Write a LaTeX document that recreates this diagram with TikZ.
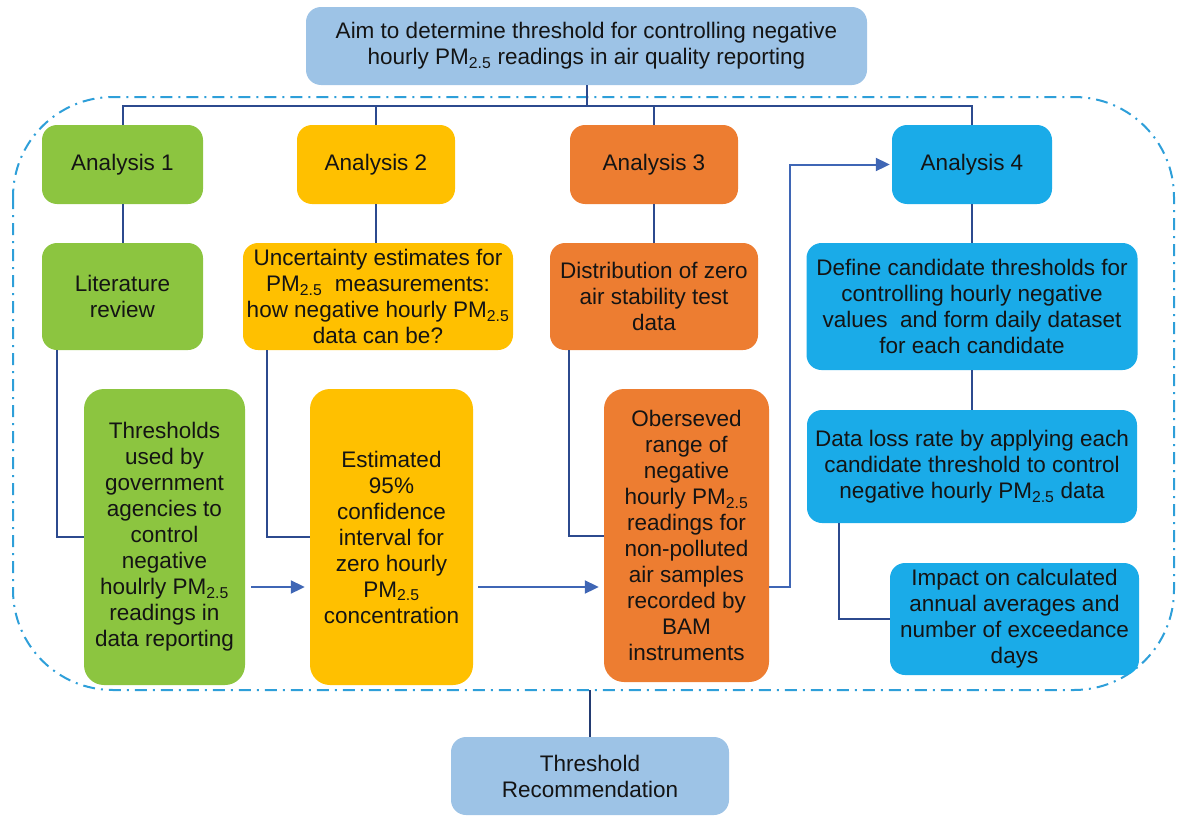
\documentclass[tikz,border=0pt]{standalone}
\usepackage{fontspec}
\setmainfont{Liberation Sans}
\usetikzlibrary{arrows.meta}
\definecolor{cgreen}{HTML}{8CC540}
\definecolor{cyellow}{HTML}{FFC000}
\definecolor{corange}{HTML}{ED7D31}
\definecolor{cblue}{HTML}{1AABE8}
\definecolor{clight}{HTML}{9DC3E6}
\definecolor{cline}{HTML}{2C4A8E}
\definecolor{carrow}{HTML}{3F66B5}
\definecolor{cframe}{HTML}{2E9FD9}
\definecolor{txt}{HTML}{141414}
\newcommand{\pmtf}{PM\textsubscript{2.5}}
\begin{document}
\begin{tikzpicture}[x=1pt,y=-1pt,
  box/.style={rounded corners=15pt, align=center, inner sep=0pt, text=txt,
    font=\fontsize{22.5}{26}\selectfont},
  conn/.style={draw=cline, line width=2pt},
  arr/.style={draw=carrow, line width=2pt, -{Triangle[length=14pt,width=13pt]}},
  frame/.style={draw=cframe, line width=2pt, rounded corners=100pt,
    dash pattern=on 12pt off 6pt on 2pt off 6pt}
]
\useasboundingbox (0,0) rectangle (1184,827);
\draw[frame] (13,97) rectangle (1174,690);
\coordinate (bus) at (0,106);
\coordinate (frameS) at (590,690);

\node[box, fill=clight, minimum width=561pt, minimum height=78pt] (top) at (586.5,46)
  {Aim to determine threshold for controlling negative\\hourly \pmtf{} readings in air quality reporting};
\node[box, fill=cgreen, minimum width=161pt, minimum height=79pt] (a1) at (122.5,164.5) {Analysis 1};
\node[box, fill=cyellow, minimum width=158pt, minimum height=79pt] (a2) at (376,164.5) {Analysis 2};
\node[box, fill=corange, minimum width=168pt, minimum height=79pt] (a3) at (654,164.5) {Analysis 3};
\node[box, fill=cblue, minimum width=160pt, minimum height=79pt] (a4) at (972,164.5) {Analysis 4};

\node[box, fill=cgreen, minimum width=161pt, minimum height=107pt] (lit) at (122.5,296.5) {Literature\\review};
\node[box, fill=cyellow, minimum width=270pt, minimum height=107pt] (unc) at (378,296.5)
  {Uncertainty estimates for\\\pmtf{}\ \ measurements:\\how negative hourly \pmtf\\data can be?};
\node[box, fill=corange, minimum width=208pt, minimum height=107pt] (dist) at (654,296.5)
  {Distribution of zero\\air stability test\\data};
\node[box, fill=cblue, minimum width=331pt, minimum height=127pt] (def) at (972,306.5)
  {Define candidate thresholds for\\controlling hourly negative\\values\ \ and form daily dataset\\for each candidate};

\node[box, rounded corners=20pt, fill=cgreen, minimum width=161pt, minimum height=296pt] (thr) at (164.5,537)
  {Thresholds\\used by\\government\\agencies to\\control\\negative\\houlrly \pmtf\\readings in\\data reporting};
\node[box, rounded corners=20pt, fill=cyellow, minimum width=163pt, minimum height=296pt] (est) at (391.5,537)
  {Estimated\\95\%\\confidence\\interval for\\zero hourly\\\pmtf\\concentration};
\node[box, rounded corners=20pt, fill=corange, minimum width=165pt, minimum height=293pt] (obs) at (686.5,535.5)
  {Oberseved\\range of\\negative\\hourly \pmtf\\readings for\\non-polluted\\air samples\\recorded by\\BAM\\instruments};
\node[box, fill=cblue, minimum width=330pt, minimum height=113pt] (loss) at (972,466.5)
  {Data loss rate by applying each\\candidate threshold to control\\negative hourly \pmtf{} data};
\node[box, fill=cblue, minimum width=249pt, minimum height=112pt] (imp) at (1014.5,619)
  {Impact on calculated\\annual averages and\\number of exceedance\\days};

\node[box, fill=clight, minimum width=278pt, minimum height=78pt] (rec) at (590,776)
  {Threshold\\Recommendation};

% top tree
\draw[conn] (top.south) -- (top.south |- bus);
\draw[conn] (a1.north) -- (a1.north |- bus) -- (a4.north |- bus) -- (a4.north);
\draw[conn] (a2.north) -- (a2.north |- bus);
\draw[conn] (a3.north) -- (a3.north |- bus);
% analysis to second row
\draw[conn] (a1.south) -- (lit.north);
\draw[conn] (a2.south) -- (a2.south |- unc.north);
\draw[conn] (a3.south) -- (dist.north);
\draw[conn] (a4.south) -- (def.north);
% second row to third row
\draw[conn] ([xshift=15pt]lit.south west) |- (thr.west);
\draw[conn] ([xshift=24pt]unc.south west) |- (est.west);
\draw[conn] ([xshift=19pt]dist.south west) |- (obs.west);
\draw[conn] (def.south) -- (loss.north);
\draw[conn] ([xshift=32pt]loss.south west) |- (imp.west);
% arrows
\draw[arr, shorten <=6pt, shorten >=5pt] ([yshift=-50pt]thr.east) -- ([yshift=-50pt]est.west);
\draw[arr, shorten <=5pt, shorten >=5pt] ([yshift=-50pt]est.east) -- ([yshift=-50pt]obs.west |- est.east);
\draw[arr, shorten >=2pt] ([yshift=-51pt]obs.east) -- ++(21pt,0) |- (a4.west);
% to recommendation
\draw[conn, draw=cline!80!black] (frameS) -- (rec.north);
\end{tikzpicture}
\end{document}
